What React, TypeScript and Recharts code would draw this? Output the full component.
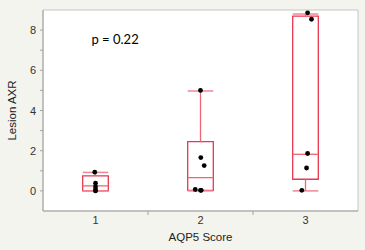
import React from 'react';
import { ComposedChart, XAxis, YAxis, Scatter, ReferenceArea, ReferenceLine, Label } from 'recharts';

// Categories (AQP5 score)
const categories = [1, 2, 3];
const categoryLabels = ['1', '2', '3'];

// Box-plot summary per category (Lesion AXR)
const whiskerLow = [0, 0, 0];
const quartile1 = [0, 0.03, 0.58];
const medians = [0.25, 0.66, 1.82];
const quartile3 = [0.75, 2.45, 8.7];
const whiskerHigh = [0.92, 4.97, 8.8];

// Individual observations per category
const group1Values = [0.93, 0.38, 0.2, 0.05, 0.0];
const group2Values = [5.0, 1.66, 1.26, 0.07, 0.03, 0.03];
const group3Values = [8.86, 8.54, 1.86, 1.14, 0.03];
// Horizontal jitter of observations (x units)
const group1Jitter = [-0.007, 0, 0, 0, 0];
const group2Jitter = [0, 0.003, 0.035, -0.05, 0.007, 0.0];
const group3Jitter = [0.02, 0.057, 0.02, 0.01, -0.035];

const yTickValues = [0, 1, 2, 3, 4, 5, 6, 7, 8];
const xTickValues = [1, 1.5, 2, 2.5, 3];
const pValueText = 'p = 0.22';
const xTitle = 'AQP5 Score';
const yTitle = 'Lesion AXR';

const groupValues = [group1Values, group2Values, group3Values];
const groupJitter = [group1Jitter, group2Jitter, group3Jitter];
const points = categories.flatMap((c, i) =>
  groupValues[i].map((v, j) => ({ x: c + groupJitter[i][j], y: v }))
);

const HALF = 0.122;
const BOX = '#e8384f';
const MED = '#ee6575';
const CAP = '#f28595';
const AXIS = '#a3a3a3';
const FONT = '"Liberation Sans", Arial, sans-serif';

const XTick = (props: any) => {
  const { x, y, payload } = props;
  const v = payload.value;
  const idx = categories.indexOf(v);
  if (idx < 0) {
    return <line x1={x} x2={x} y1={y} y2={y + 4} stroke={AXIS} strokeWidth={1} />;
  }
  return (
    <text x={x} y={y + 13} textAnchor="middle" fontSize={11} fill="#333" fontFamily={FONT}>
      {categoryLabels[idx]}
    </text>
  );
};

const YTick = (props: any) => {
  const { x, y, payload } = props;
  const v = payload.value;
  const major = v % 2 === 0;
  return (
    <g>
      <line x1={x - 3} x2={x} y1={y} y2={y} stroke={AXIS} strokeWidth={1} />
      {major && (
        <text x={x - 7} y={y + 4} textAnchor="end" fontSize={11} fill="#333" fontFamily={FONT}>
          {v}
        </text>
      )}
    </g>
  );
};

export default function App() {
  return (
    <div style={{ position: 'absolute', left: 0, top: 0, width: 365, height: 250, background: '#f4f4ef' }}>
      <ComposedChart width={365} height={250} margin={{ top: 10, right: 7, bottom: 0, left: 0 }}>
        <XAxis
          type="number"
          dataKey="x"
          domain={[0.5, 3.5]}
          ticks={xTickValues}
          tickLine={false}
          tickSize={0}
          tickMargin={0}
          height={39}
          tick={<XTick />}
          axisLine={{ stroke: AXIS }}
          interval={0}
        >
          <Label
            content={(p: any) => {
              const vb = p.viewBox;
              return (
                <text x={vb.x + vb.width / 2} y={vb.y + 30} textAnchor="middle" fontSize={11.5} fill="#222" fontFamily={FONT}>
                  {xTitle}
                </text>
              );
            }}
          />
        </XAxis>
        <YAxis
          type="number"
          dataKey="y"
          domain={[-1, 9]}
          ticks={yTickValues}
          tickLine={false}
          tickSize={0}
          tickMargin={0}
          width={43}
          tick={<YTick />}
          axisLine={{ stroke: AXIS }}
          interval={0}
        >
          <Label
            content={(p: any) => {
              const vb = p.viewBox;
              const cx = 16;
              const cy = vb.y + vb.height / 2;
              return (
                <text x={cx} y={cy} textAnchor="middle" fontSize={11.5} fill="#222" fontFamily={FONT} transform={`rotate(-90, ${cx}, ${cy})`}>
                  {yTitle}
                </text>
              );
            }}
          />
        </YAxis>
        <ReferenceArea x1={0.5} x2={3.5} y1={-1} y2={9} fill="#ffffff" fillOpacity={1} stroke="#c4c4c4" strokeWidth={1}
          label={(p: any) => {
            const vb = p.viewBox;
            return (
              <text x={vb.x + 48.5} y={vb.y + 34} fontSize={13} fill="#000" fontFamily="Lato, sans-serif">
                {pValueText}
              </text>
            );
          }}
        />
        {categories.map((c, i) => (
          <ReferenceLine key={'wu' + c} segment={[{ x: c, y: quartile3[i] }, { x: c, y: whiskerHigh[i] }]} stroke={MED} strokeWidth={1.3} />
        ))}
        {categories.map((c, i) => (
          <ReferenceLine key={'wl' + c} segment={[{ x: c, y: whiskerLow[i] }, { x: c, y: quartile1[i] }]} stroke={MED} strokeWidth={1.3} />
        ))}
        {categories.map((c, i) => (
          <ReferenceLine key={'ch' + c} segment={[{ x: c - HALF, y: whiskerHigh[i] }, { x: c + HALF, y: whiskerHigh[i] }]} stroke={CAP} strokeWidth={1.5} />
        ))}
        {categories.map((c, i) => (
          <ReferenceLine key={'cl' + c} segment={[{ x: c - HALF, y: whiskerLow[i] }, { x: c + HALF, y: whiskerLow[i] }]} stroke={CAP} strokeWidth={1.5} />
        ))}
        {categories.map((c, i) => (
          <ReferenceArea key={'box' + c} x1={c - HALF} x2={c + HALF} y1={quartile1[i]} y2={quartile3[i]} fill="none" fillOpacity={0} stroke={BOX} strokeWidth={1.3} />
        ))}
        {categories.map((c, i) => (
          <ReferenceLine key={'md' + c} segment={[{ x: c - HALF, y: medians[i] }, { x: c + HALF, y: medians[i] }]} stroke={MED} strokeWidth={1.3} />
        ))}
        <Scatter
          data={points}
          isAnimationActive={false}
          shape={(p: any) => <circle cx={p.cx} cy={p.cy} r={2.4} fill="#000" />}
        />
      </ComposedChart>
    </div>
  );
}
